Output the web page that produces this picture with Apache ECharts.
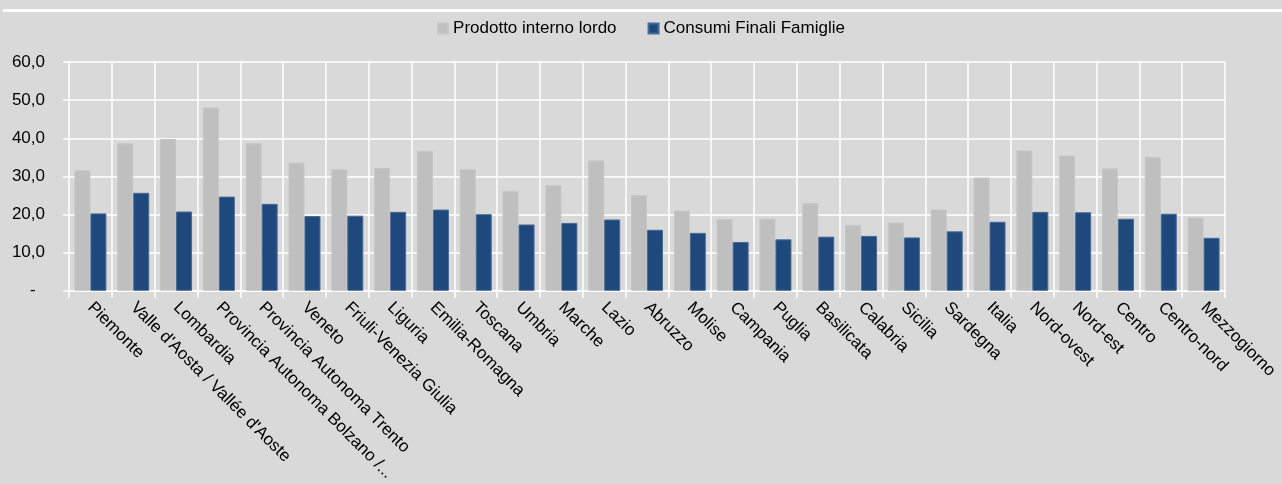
<!DOCTYPE html>
<html>

<head>
    <meta charset="UTF-8">
    <style type="text/css">
        body {
            margin: 0;
            padding: 0;
            overflow: hidden;
            background: #d9d9d9
        }

        #chart {
            width: 1282px;
            height: 484px;
            position: absolute
        }
    </style>
</head>

<body>
    <div id="chart"></div>
    <script src="https://cdn.jsdelivr.net/npm/echarts@6/dist/echarts.min.js"></script>
    <script>
        let regions = ['Piemonte', "Valle d'Aosta / Vallée d'Aoste", 'Lombardia', 'Provincia Autonoma Bolzano /...',
            'Provincia Autonoma Trento', 'Veneto', 'Friuli-Venezia Giulia', 'Liguria', 'Emilia-Romagna', 'Toscana',
            'Umbria', 'Marche', 'Lazio', 'Abruzzo', 'Molise', 'Campania', 'Puglia', 'Basilicata', 'Calabria',
            'Sicilia', 'Sardegna', 'Italia', 'Nord-ovest', 'Nord-est', 'Centro', 'Centro-nord', 'Mezzogiorno'];
        let pil = [31.6, 38.7, 39.8, 48.1, 38.7, 33.6, 31.9, 32.2, 36.7, 31.9,
            26.2, 27.7, 34.2, 25.1, 21.0, 18.8, 18.9, 23.0, 17.3,
            17.9, 21.3, 29.7, 36.8, 35.5, 32.1, 35.1, 19.2];
        let consumi = [20.3, 25.7, 20.8, 24.7, 22.8, 19.6, 19.7, 20.7, 21.3, 20.1,
            17.4, 17.8, 18.7, 16.0, 15.2, 12.8, 13.5, 14.2, 14.4,
            14.0, 15.6, 18.1, 20.7, 20.6, 18.9, 20.2, 13.9];
        let seriesNames = ['Prodotto interno lordo', 'Consumi Finali Famiglie'];

        var myChart = echarts.init(document.getElementById('chart'));

        let FONT = '"Liberation Sans", Arial, sans-serif';

        let option = {
            backgroundColor: '#d9d9d9',
            animation: false,
            textStyle: { fontFamily: FONT },
            graphic: [
                {
                    type: 'rect',
                    shape: { x: 3, y: 9, width: 1279, height: 3 },
                    style: { fill: '#ffffff' },
                    silent: true
                }
            ],
            legend: {
                top: 15,
                left: 'center',
                itemWidth: 10,
                itemHeight: 10,
                itemGap: 31,
                icon: 'rect',
                textStyle: { fontSize: 17, color: '#000', fontFamily: FONT },
                data: seriesNames
            },
            grid: {
                left: 69,
                right: 57,
                top: 62,
                bottom: 191,
                containLabel: false
            },
            xAxis: {
                type: 'category',
                data: regions,
                boundaryGap: true,
                axisLine: { lineStyle: { color: '#ffffff', width: 1.5 } },
                axisTick: { show: true, length: 7, lineStyle: { color: '#ffffff', width: 1.5 } },
                splitLine: { show: true, lineStyle: { color: '#ffffff', width: 1.5 } },
                axisLabel: {
                    interval: 0,
                    rotate: -45,
                    margin: 14,
                    fontSize: 17,
                    color: '#000',
                    fontFamily: FONT
                }
            },
            yAxis: {
                type: 'value',
                min: 0,
                max: 60,
                interval: 10,
                axisLine: { show: false },
                axisTick: { show: true, length: 6, lineStyle: { color: '#ffffff', width: 1.5 } },
                splitLine: { show: true, lineStyle: { color: '#ffffff', width: 1.5 } },
                axisLabel: {
                    margin: 24,
                    fontSize: 17,
                    color: '#000',
                    fontFamily: FONT,
                    formatter: function (v) {
                        if (v === 0) return '-  ';
                        return v.toFixed(1).replace('.', ',');
                    }
                }
            },
            series: [
                {
                    name: seriesNames[0],
                    type: 'bar',
                    data: pil,
                    barWidth: 16,
                    barGap: '0%',
                    itemStyle: { color: '#bfbfbf', borderColor: '#c6c6c6', borderWidth: 1 }
                },
                {
                    name: seriesNames[1],
                    type: 'bar',
                    data: consumi,
                    barWidth: 16,
                    barGap: '0%',
                    itemStyle: { color: '#1f497d', borderColor: '#4a6a94', borderWidth: 1 }
                }
            ]
        };
        myChart.setOption(option);
        window.onresize = myChart.resize;
    </script>
</body>

</html>
